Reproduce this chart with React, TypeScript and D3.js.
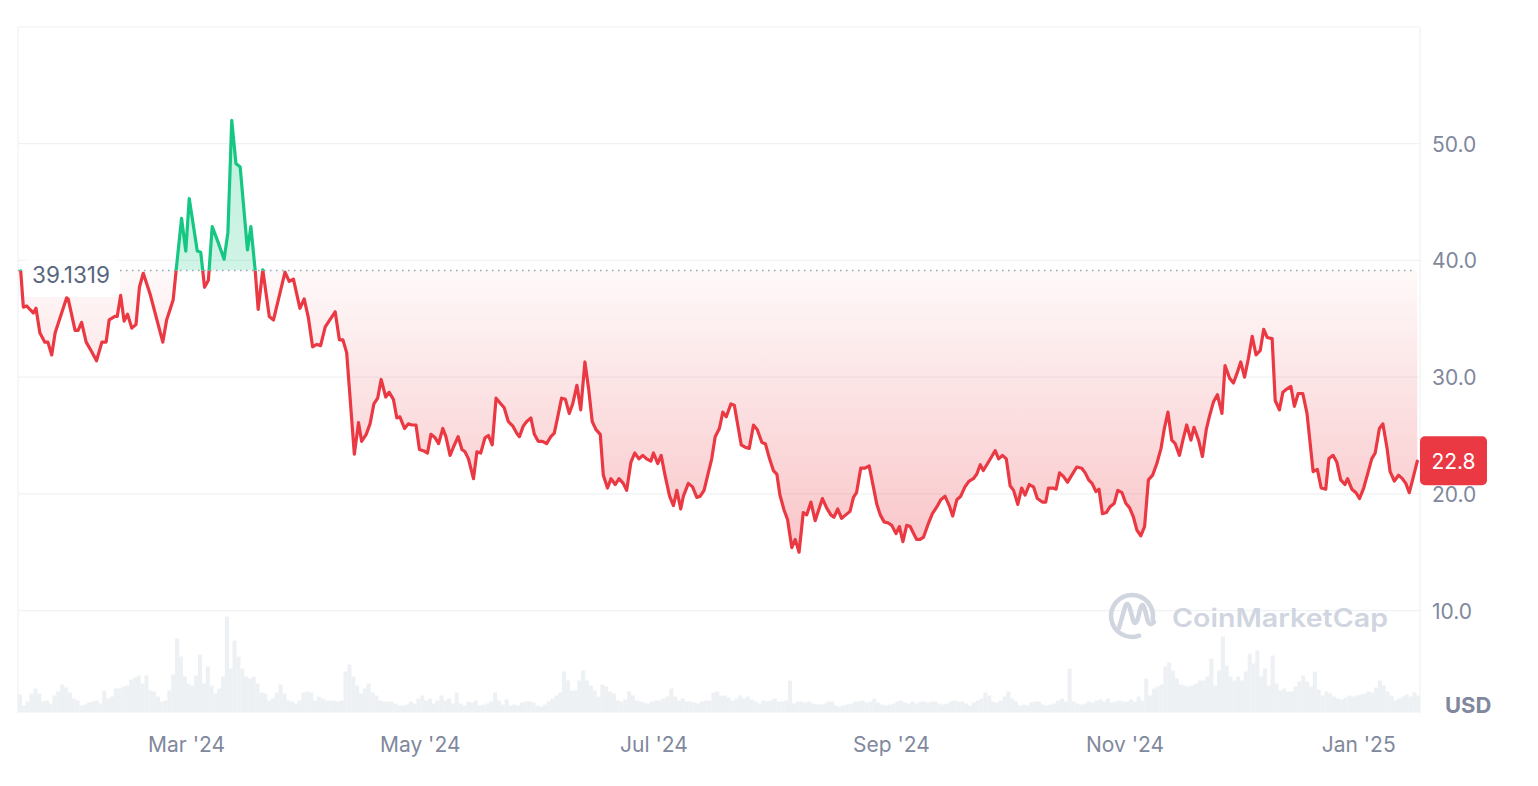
import React from "react";
import * as d3 from "d3";

// ---- data ----
const START_DATE = Date.UTC(2024, 0, 17);
const END_DAY = 366;
const BASELINE_PRICE = 39.1319;
const LAST_PRICE = 22.8;

// day offsets from START_DATE and prices (USD)
const priceDays = [
  0.7, 1.4, 2.3, 3.1, 4.0, 4.7, 5.7, 7.0, 7.8, 8.8, 9.7, 12.7, 13.1, 14.9, 15.7, 16.6, 17.8, 19.2, 20.5, 21.9,
  23.0, 23.8, 25.3, 25.9, 26.8, 27.7, 28.6, 29.7, 30.8, 31.7, 32.7, 34.5, 37.8, 38.8, 40.5, 41.3, 42.7, 43.8, 44.7, 46.8,
  47.7, 48.7, 49.7, 50.7, 52.3, 53.8, 54.8, 55.8, 56.9, 58.0, 59.9, 60.8, 61.9, 62.7, 63.9, 65.6, 66.7, 69.7, 70.8, 71.9,
  73.6, 74.7, 75.8, 76.9, 78.0, 79.0, 80.2, 82.8, 83.9, 84.8, 85.8, 87.8, 88.9, 89.7, 90.9, 91.9, 92.9, 93.9, 94.8, 96.0,
  96.9, 98.0, 98.9, 99.7, 100.9, 101.9, 102.8, 103.9, 104.8, 105.8, 106.9, 107.8, 108.9, 109.8, 110.9, 111.7, 112.8, 113.8, 114.9, 115.9,
  116.7, 117.6, 118.9, 119.8, 120.8, 121.9, 122.8, 123.8, 124.8, 125.8, 126.9, 128.0, 129.2, 130.2, 130.9, 131.9, 132.8, 133.9, 134.8, 135.8,
  136.9, 138.0, 139.1, 140.0, 140.9, 141.9, 142.9, 143.9, 144.8, 145.9, 146.9, 148.0, 149.0, 149.9, 150.9, 152.0, 152.8, 153.9, 154.8, 155.9,
  156.9, 158.0, 158.9, 160.0, 161.0, 162.1, 163.1, 164.1, 165.2, 165.9, 167.0, 167.9, 168.9, 170.1, 171.1, 172.0, 173.0, 173.7, 175.0, 176.1,
  177.2, 178.1, 179.1, 180.2, 181.1, 182.0, 183.1, 184.0, 184.9, 186.1, 187.0, 188.8, 189.8, 190.9, 192.0, 193.0, 194.2, 195.1, 196.2, 197.2,
  198.1, 198.9, 200.0, 200.9, 202.0, 202.9, 203.9, 205.0, 205.9, 207.0, 208.1, 210.0, 211.1, 212.2, 213.0, 214.0, 215.0, 216.1, 217.2, 218.1,
  218.9, 220.0, 221.1, 222.2, 223.3, 224.2, 225.1, 226.1, 227.2, 228.1, 229.2, 230.1, 231.0, 232.0, 232.9, 233.8, 234.6, 235.5, 236.4, 237.7,
  238.7, 239.9, 240.9, 242.0, 243.1, 244.0, 245.1, 246.1, 247.2, 248.3, 249.4, 250.3, 251.2, 252.0, 253.1, 254.2, 255.1, 256.0, 257.0, 258.0,
  259.0, 259.9, 261.0, 262.0, 262.9, 264.0, 265.1, 266.1, 267.4, 268.3, 269.0, 270.2, 271.0, 271.9, 272.9, 274.0, 275.1, 276.4, 277.7, 278.6,
  279.5, 280.4, 281.4, 282.2, 283.1, 284.1, 285.1, 286.2, 287.1, 288.2, 289.2, 290.2, 291.2, 292.1, 293.1, 294.1, 295.1, 296.2, 297.3, 298.4,
  299.2, 300.2, 301.2, 302.1, 303.2, 304.1, 305.1, 306.2, 307.0, 308.2, 309.2, 310.2, 311.0, 312.1, 313.1, 314.3, 315.1, 316.3, 317.3, 318.2,
  319.2, 320.2, 321.2, 322.2, 323.2, 324.3, 325.2, 326.1, 327.4, 328.2, 329.3, 330.2, 331.3, 332.3, 333.2, 334.2, 335.4, 336.5, 338.1, 339.2,
  340.2, 341.4, 342.2, 343.3, 344.3, 345.3, 346.4, 347.1, 348.2, 349.3, 350.2, 351.3, 352.4, 353.4, 354.3, 355.4, 356.3, 357.4, 358.2, 359.3,
  360.4, 361.4, 362.3, 363.2, 364.3, 365.3,
];

const priceValues = [
  39.1, 36.0, 36.1, 35.8, 35.5, 35.9, 33.8, 33.0, 33.0, 31.9, 33.8, 36.8, 36.7, 34.0, 34.0, 34.7, 33.0, 32.2, 31.4, 33.0,
  33.0, 34.9, 35.2, 35.2, 37.0, 34.8, 35.4, 34.2, 34.5, 37.7, 38.9, 37.1, 33.0, 34.9, 36.6, 39.2, 43.6, 40.8, 45.3, 40.8,
  40.7, 37.7, 38.3, 42.9, 41.5, 40.1, 42.4, 52.0, 48.3, 48.0, 40.9, 42.9, 39.2, 35.8, 39.2, 35.2, 34.9, 39.0, 38.2, 38.4,
  35.9, 36.7, 35.1, 32.6, 32.8, 32.7, 34.3, 35.6, 33.2, 33.2, 32.1, 23.4, 26.1, 24.5, 25.1, 26.0, 27.7, 28.2, 29.8, 28.3,
  28.7, 28.1, 26.5, 26.6, 25.6, 26.0, 25.9, 25.9, 23.8, 23.7, 23.5, 25.1, 24.8, 24.3, 25.6, 24.9, 23.3, 24.1, 24.9, 23.8,
  23.6, 23.0, 21.3, 23.6, 23.5, 24.8, 25.0, 24.2, 28.2, 27.8, 27.4, 26.2, 25.8, 25.2, 24.9, 25.8, 26.2, 26.5, 25.1, 24.5,
  24.5, 24.3, 24.9, 25.2, 26.6, 28.2, 28.1, 26.9, 27.7, 29.3, 27.2, 31.3, 28.9, 26.2, 25.5, 25.1, 21.6, 20.5, 21.3, 20.8,
  21.3, 20.9, 20.3, 22.7, 23.5, 23.0, 23.3, 23.0, 22.8, 23.5, 22.6, 23.3, 21.6, 19.8, 19.0, 20.3, 18.7, 19.8, 20.9, 20.6,
  19.7, 19.8, 20.3, 21.8, 23.0, 24.9, 25.6, 27.0, 26.6, 27.7, 27.6, 24.2, 24.0, 23.9, 25.9, 25.5, 24.4, 24.3, 23.0, 22.0,
  21.7, 19.9, 18.6, 17.8, 15.4, 16.1, 15.0, 18.4, 18.2, 19.3, 17.7, 19.6, 18.8, 18.2, 18.0, 18.7, 17.9, 18.2, 18.5, 19.7,
  20.1, 22.2, 22.2, 22.4, 20.6, 19.1, 18.2, 17.6, 17.5, 17.3, 16.6, 17.2, 15.9, 17.3, 17.2, 16.6, 16.1, 16.1, 16.3, 17.5,
  18.3, 18.9, 19.5, 19.8, 19.0, 18.1, 19.5, 19.8, 20.6, 21.1, 21.3, 21.7, 22.5, 22.0, 22.6, 23.2, 23.7, 23.0, 23.3, 23.0,
  20.7, 20.3, 19.1, 20.5, 19.9, 20.8, 20.6, 19.6, 19.3, 19.3, 20.5, 20.5, 20.4, 21.8, 21.5, 21.0, 21.6, 22.3, 22.2, 21.8,
  21.2, 20.9, 20.2, 20.4, 18.3, 18.4, 18.9, 19.2, 20.3, 20.1, 19.2, 18.8, 18.0, 16.9, 16.4, 17.2, 21.2, 21.6, 22.6, 23.9,
  25.5, 27.0, 24.6, 24.3, 23.3, 24.6, 25.9, 24.6, 25.7, 24.6, 23.2, 25.5, 26.6, 27.9, 28.5, 26.9, 31.0, 29.9, 29.5, 30.3,
  31.3, 30.0, 31.6, 33.5, 31.9, 32.3, 34.1, 33.4, 33.3, 28.0, 27.2, 28.7, 29.0, 29.2, 27.5, 28.6, 28.6, 26.9, 21.9, 22.1,
  20.5, 20.4, 23.0, 23.3, 22.7, 21.2, 20.8, 21.3, 20.4, 20.1, 19.6, 20.5, 21.8, 23.0, 23.5, 25.6, 26.0, 23.9, 21.9, 21.1,
  21.6, 21.3, 20.9, 20.1, 21.5, 22.8,
];

// daily volume (relative units, day 0 .. 365)
const volumes = [
  18, 7, 11, 19, 24, 19, 11, 12, 9, 17, 21, 28, 25, 20, 14, 12, 7, 8, 10, 11,
  12, 9, 22, 14, 16, 24, 24, 26, 27, 33, 35, 37, 29, 37, 22, 21, 16, 11, 12, 22,
  38, 74, 56, 36, 29, 27, 37, 58, 29, 46, 27, 19, 24, 36, 96, 44, 72, 56, 44, 36,
  34, 36, 29, 20, 19, 12, 14, 20, 28, 19, 12, 11, 9, 12, 20, 21, 20, 12, 16, 14,
  12, 12, 12, 11, 12, 41, 48, 36, 27, 19, 24, 29,
  20, 17, 12, 11, 11, 11, 9, 7, 7, 8, 11, 9, 14, 17, 12, 14, 9, 12, 17, 12,
  14, 9, 20, 9, 7, 11, 10, 12, 7, 8, 9, 11, 20, 12, 8, 13, 7, 8, 7, 10,
  11, 11, 10, 7, 6, 8, 11, 14, 17, 20, 41, 32, 22, 22, 32, 42, 32, 27, 22, 16,
  28, 26, 21, 19, 12, 11, 13, 21, 17, 12, 11, 10, 9, 11, 12, 12, 14, 16, 24, 16,
  12, 14, 11, 11, 10, 9, 11, 12, 12, 20, 21, 17,
  17, 15, 12, 14, 17, 14, 16, 13, 11, 9, 12, 11, 12, 14, 11, 11, 12, 32, 9, 11,
  11, 10, 11, 9, 8, 8, 9, 11, 11, 7, 6, 7, 8, 9, 11, 11, 12, 10, 11, 14,
  10, 8, 7, 8, 9, 11, 12, 10, 9, 11, 9, 11, 11, 10, 11, 11, 9, 8, 9, 11,
  12, 11, 11, 9, 7, 10, 12, 14, 20, 17, 11, 10, 12, 16, 21, 14, 11, 7, 8, 7,
  10, 11, 11, 8, 7, 8, 9, 12, 14, 11, 44,
  11, 9, 8, 9, 11, 10, 12, 13, 11, 14, 10, 11, 12, 11, 11, 13, 11, 16, 12, 34,
  17, 24, 26, 28, 46, 50, 42, 34, 28, 27, 26, 27, 29, 32, 32, 36, 54, 27, 42, 76,
  47, 36, 32, 36, 32, 41, 59, 49, 62, 36, 44, 27, 57, 29, 22, 24, 21, 21, 26, 31,
  37, 31, 26, 41, 23, 17, 21, 19, 16, 14, 13, 15, 17, 16, 17, 18, 19, 21, 20, 25,
  32, 27, 21, 17, 12, 14, 16, 18, 16, 20, 17,
];

const yTickValues = [10, 20, 30, 40, 50];
const xTickDates = ["2024-03-01", "2024-05-01", "2024-07-01", "2024-09-01", "2024-11-01", "2025-01-01"];
const xTickLabels = ["Mar '24", "May '24", "Jul '24", "Sep '24", "Nov '24", "Jan '25"];

// ---- layout ----
const W = 1538;
const H = 786;
const LEFT = 18;
const RIGHT = 1420;
const TOP = 27;
const VOL_BASE = 712.5;

const RED = "#ea3943";
const GREEN = "#16c784";
const GRID = "#eff2f5";
const LABEL = "#7f889c";

const DAY_MS = 86400000;
const toDate = (d: number) => new Date(START_DATE + d * DAY_MS);

export default function App() {
  const x = d3.scaleUtc().domain([toDate(0), toDate(END_DAY)]).range([LEFT, RIGHT]);
  const y = d3.scaleLinear().domain([0, 60]).range([727.3, TOP]);
  const v = d3.scaleLinear().domain([0, 100]).range([VOL_BASE, VOL_BASE - 100]);

  const points = priceDays.map((d, i) => ({ date: toDate(d), value: priceValues[i] }));
  const yBase = y(BASELINE_PRICE);

  const line = d3
    .line<{ date: Date; value: number }>()
    .x((p) => x(p.date))
    .y((p) => y(p.value));
  const area = d3
    .area<{ date: Date; value: number }>()
    .x((p) => x(p.date))
    .y0(yBase)
    .y1((p) => y(p.value));

  const linePath = line(points) || "";
  const areaPath = area(points) || "";

  return (
    <svg
      width={W}
      height={H}
      style={{ position: "absolute", left: 0, top: 0, background: "#fff" }}
      fontFamily="Inter, 'Noto Sans', sans-serif"
    >
      <defs>
        <clipPath id="clipAbove">
          <rect x={LEFT} y={0} width={RIGHT - LEFT} height={yBase} />
        </clipPath>
        <clipPath id="clipBelow">
          <rect x={LEFT} y={yBase} width={RIGHT - LEFT} height={H - yBase} />
        </clipPath>
        <clipPath id="clipPlot">
          <rect x={LEFT} y={TOP} width={RIGHT - LEFT} height={VOL_BASE - TOP + 1} />
        </clipPath>
        <linearGradient id="redGrad" gradientUnits="userSpaceOnUse" x1="0" y1={yBase} x2="0" y2={560}>
          <stop offset="0" stopColor={RED} stopOpacity={0.03} />
          <stop offset="1" stopColor={RED} stopOpacity={0.3} />
        </linearGradient>
        <linearGradient id="greenGrad" gradientUnits="userSpaceOnUse" x1="0" y1={yBase} x2="0" y2={110}>
          <stop offset="0" stopColor={GREEN} stopOpacity={0.2} />
          <stop offset="1" stopColor={GREEN} stopOpacity={0.28} />
        </linearGradient>
      </defs>

      {/* frame */}
      <line x1={LEFT} x2={RIGHT} y1={TOP} y2={TOP} stroke={GRID} strokeWidth={1.2} />
      <line x1={LEFT} x2={LEFT} y1={TOP} y2={VOL_BASE + 1} stroke={GRID} strokeWidth={1.2} />
      <line x1={RIGHT} x2={RIGHT} y1={TOP} y2={VOL_BASE + 1} stroke={GRID} strokeWidth={1.2} />

      {/* grid */}
      {yTickValues.map((t) => (
        <line key={t} x1={LEFT} x2={RIGHT} y1={y(t)} y2={y(t)} stroke={GRID} strokeWidth={1.2} />
      ))}

      {/* volume bars */}
      <g clipPath="url(#clipPlot)">
        {volumes.map((val, i) => {
          const x0 = x(toDate(i));
          const x1 = x(toDate(i + 1));
          return (
            <rect key={i} x={x0} y={v(val)} width={x1 - x0 + 0.3} height={VOL_BASE - v(val)} fill="#eef1f4" />
          );
        })}
      </g>

      {/* watermark */}
      <g stroke="#d0d5df" fill="none" strokeWidth={4.5} strokeLinecap="round" strokeLinejoin="round">
        <path d="M 1139.2 635.7 A 21 21 0 1 1 1152.7 619.6" />
        <path d="M 1119 628 L 1125 607 Q 1127 601 1129.5 607 L 1133 620 Q 1135 626 1137.5 620 L 1140.5 608 Q 1142.5 602 1144.5 608 L 1147.5 620 Q 1149.5 627 1154 622" />
      </g>
      <text x={1172} y={627} fontSize={25} fontWeight={600} fill="#d0d5df" textLength={216} lengthAdjust="spacingAndGlyphs">
        CoinMarketCap
      </text>

      {/* fills */}
      <path d={areaPath} fill="url(#redGrad)" clipPath="url(#clipBelow)" />
      <path d={areaPath} fill="url(#greenGrad)" clipPath="url(#clipAbove)" />

      {/* baseline */}
      <line x1={LEFT} x2={RIGHT - 4} y1={yBase} y2={yBase} stroke="#9aa3b4" strokeWidth={1.4} strokeDasharray="1.5 4.5" />
      <rect x={24} y={260} width={96} height={37} rx={3} fill="#ffffff" fillOpacity={0.92} />
      <text x={32} y={283} fontSize={22.5} fill="#58667e">
        {BASELINE_PRICE.toString()}
      </text>

      {/* price line */}
      <path d={linePath} fill="none" stroke={RED} strokeWidth={3.2} strokeLinejoin="round" strokeLinecap="round" clipPath="url(#clipBelow)" />
      <path d={linePath} fill="none" stroke={GREEN} strokeWidth={3.2} strokeLinejoin="round" strokeLinecap="round" clipPath="url(#clipAbove)" />

      {/* y axis labels */}
      {yTickValues.map((t) => (
        <text key={t} x={1432} y={y(t) + 8} fontSize={21} fill={LABEL}>
          {t.toFixed(1)}
        </text>
      ))}
      <text x={1445} y={713} fontSize={22} fontWeight={700} fill={LABEL}>
        USD
      </text>

      {/* x axis labels */}
      {xTickDates.map((d, i) => (
        <text key={d} x={x(new Date(d + "T00:00:00Z"))} y={752} fontSize={21} fill={LABEL} textAnchor="middle">
          {xTickLabels[i]}
        </text>
      ))}

      {/* current price tag */}
      <rect x={RIGHT} y={y(LAST_PRICE) - 25} width={67} height={49} rx={5} fill={RED} />
      <text x={RIGHT + 33.5} y={y(LAST_PRICE) + 8} fontSize={21} fill="#fff" textAnchor="middle">
        {LAST_PRICE.toFixed(1)}
      </text>
    </svg>
  );
}
